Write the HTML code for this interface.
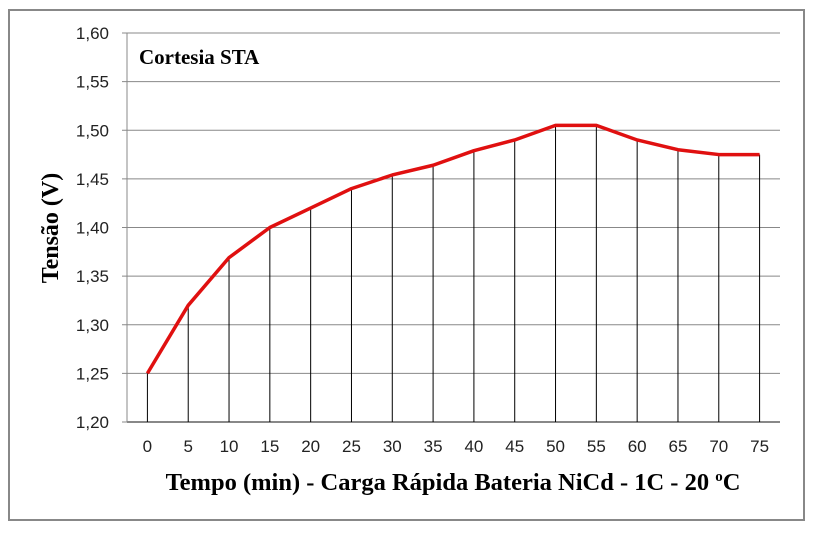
<!DOCTYPE html>
<html><head><meta charset="utf-8"><style>
body{margin:0;background:#fff;width:814px;height:534px;overflow:hidden}
svg{display:block}
</style></head><body>
<svg width="814" height="534">
<rect x="9" y="10" width="795" height="510" fill="#fff" stroke="#888" stroke-width="2"/>
<g id="grid"></g><g id="drops"></g><g id="ylab"></g><g id="xlab"></g>
<polyline id="line" fill="none" stroke="#e01010" stroke-width="3.5" stroke-linejoin="round"/>
<text x="139" y="64" font-family="Liberation Serif" font-weight="bold" font-size="21">Cortesia STA</text>
<text x="453" y="490" text-anchor="middle" font-family="Liberation Serif" font-weight="bold" font-size="24.5">Tempo (min) - Carga Rápida Bateria NiCd - 1C - 20 <tspan font-size="15" dy="-9">o</tspan><tspan dy="9">C</tspan></text>
<text transform="translate(58,228) rotate(-90)" text-anchor="middle" font-family="Liberation Serif" font-weight="bold" font-size="24">Tensão (V)</text>
</svg>
<script>
const categories=[0,5,10,15,20,25,30,35,40,45,50,55,60,65,70,75];
const voltage=[1.25,1.32,1.369,1.40,1.42,1.44,1.454,1.464,1.479,1.49,1.505,1.505,1.49,1.48,1.475,1.475];
const yTicks=[1.20,1.25,1.30,1.35,1.40,1.45,1.50,1.55,1.60];
const L=127,R=780,T=33,B=422,yMin=1.2,yMax=1.6;
const ns='http://www.w3.org/2000/svg';
const step=(R-L)/categories.length;
const xs=i=>L+step*(i+0.5);
const ys=v=>B-(v-yMin)/(yMax-yMin)*(B-T);
function mk(t,a,p){const e=document.createElementNS(ns,t);for(const k in a)e.setAttribute(k,a[k]);document.getElementById(p).appendChild(e);return e;}
yTicks.forEach(v=>{
 const y=ys(v);
 const g=mk('line',{x1:L-5,x2:R,y1:y,y2:y,stroke:'#888','stroke-width':1},'grid');
 
 
 const t=mk('text',{x:L-18,y:y+6,'text-anchor':'end','font-family':'Liberation Sans','font-size':17,fill:'#222'},'ylab');
 t.textContent=v.toFixed(2).replace('.',',');
 
 
});
const ax=mk('line',{x1:L,x2:L,y1:T,y2:B,stroke:'#888','stroke-width':1},'grid');


const bx=mk('line',{x1:L,x2:R,y1:B,y2:B,stroke:'#888','stroke-width':2},'grid');


categories.forEach((c,i)=>{
 const d=mk('line',{x1:xs(i),x2:xs(i),y1:ys(voltage[i]),y2:B,stroke:'#000','stroke-width':1},'drops');
 
 
 const t=mk('text',{x:xs(i),y:B+30,'text-anchor':'middle','font-family':'Liberation Sans','font-size':17,fill:'#222'},'xlab');
 t.textContent=c;
 
 
});
document.getElementById('line').setAttribute('points',voltage.map((v,i)=>xs(i)+','+ys(v)).join(' '));
</script>
</body></html>
